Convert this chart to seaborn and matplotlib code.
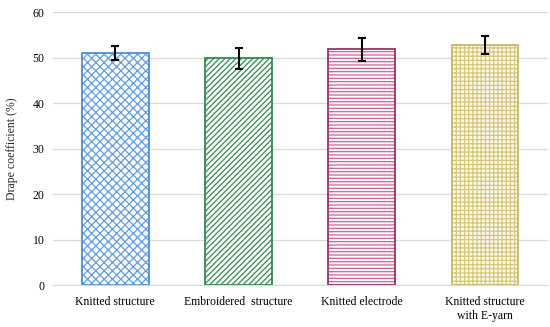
import matplotlib
matplotlib.use("Agg")
import matplotlib.pyplot as plt
import matplotlib.colors as mcolors
import seaborn as sns
import pandas as pd

categories = ["Knitted structure", "Embroidered  structure", "Knitted electrode", "Knitted structure\nwith E-yarn"]
values = [51.0, 49.9, 51.8, 52.7]
errors = [1.5, 2.3, 2.6, 2.0]
yticks = [0, 10, 20, 30, 40, 50, 60]

edge_colors = ["#4a90d9", "#2e8b4a", "#9c2e66", "#c9b766"]
hatch_colors = ["#5f9de3", "#2e8b4a", "#d65f96", "#d6c67c"]
face_colors = ["white", "white", "white", "#fdfbec"]
hatches = ["xxxx", "//////", "-----", "++++"]

sns.set_style("white")
plt.rcParams['font.family'] = ['Liberation Serif', 'DejaVu Serif']
plt.rcParams['hatch.linewidth'] = 0.9

fig = plt.figure(figsize=(5.5, 3.27), dpi=100)
ax = fig.add_axes([0.096, 0.128, 0.9, 0.835])

df = pd.DataFrame({"cat": categories, "val": values})
sns.barplot(data=df, x="cat", y="val", ax=ax, width=0.54, color="white", errorbar=None)
for p, ec, hc, fc, h in zip(ax.patches, edge_colors, hatch_colors, face_colors, hatches):
    p.set_facecolor(fc)
    p.set_edgecolor(ec)
    p.set_hatch(h)
    p._hatch_color = mcolors.to_rgba(hc)
    p.set_linewidth(1.3)
    p.set_zorder(2)

ax.errorbar(range(len(categories)), values, yerr=errors, fmt="none", ecolor="black",
            elinewidth=1.5, capsize=3, capthick=1.5, zorder=3)

ax.set_xlim(-0.507, 3.51)
ax.set_ylim(0, 60)
ax.set_yticks(yticks)
ax.yaxis.grid(True, color="#d9d9d9", linewidth=0.9, zorder=0)
ax.set_axisbelow(True)
for s in ["top", "right", "left"]:
    ax.spines[s].set_visible(False)
ax.spines["bottom"].set_color("#d9d9d9")
ax.tick_params(axis="both", length=0, labelsize=8.5, colors="black")
ax.tick_params(axis="x", pad=8)
ax.tick_params(axis="y", pad=6)
ax.set_xlabel("")
ax.set_ylabel("Drape coefficient (%)", fontsize=8.5)
ax.yaxis.set_label_coords(-0.07, 0.5)

fig.savefig("out.png", dpi=100)
